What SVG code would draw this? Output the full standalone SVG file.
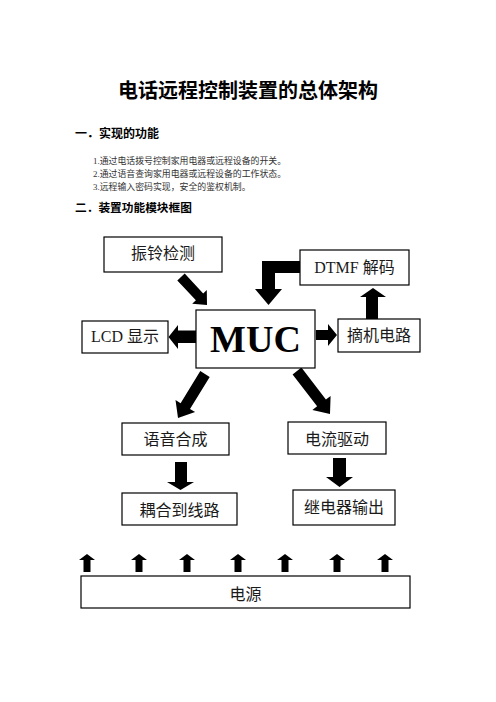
<svg xmlns="http://www.w3.org/2000/svg" xmlns:xlink="http://www.w3.org/1999/xlink" width="496" height="702" viewBox="0 0 496 702">
<style>
.box{fill:#fff;stroke:#000;stroke-width:1.2}
.lbl{font-family:"Liberation Serif","Noto Sans CJK SC",serif;font-size:16px;fill:#1a1a1a;text-anchor:middle}
.hd{font-family:"Noto Sans CJK SC","Liberation Sans",sans-serif;font-weight:bold;fill:#000}
.li{font-family:"Liberation Serif","Noto Sans CJK SC",serif;font-size:8.9px;fill:#333}
.arr{fill:#000}
</style>
<defs>
<path id="up" d="M0,0 L8,6 L3.5,6 L3.5,18 L-3.5,18 L-3.5,6 L-8,6 Z"/>
</defs>
<rect width="496" height="702" fill="#fff"/>
<g id="header">
<text class="hd" x="248" y="98" font-size="20" text-anchor="middle">电话远程控制装置的总体架构</text>
<text class="hd" x="75" y="137.5" font-size="12">一．实现的功能</text>
<text class="li" x="93" y="164">1.通过电话拨号控制家用电器或远程设备的开关。</text>
<text class="li" x="93" y="177">2.通过语音查询家用电器或远程设备的工作状态。</text>
<text class="li" x="93" y="190">3.远程输入密码实现，安全的鉴权机制。</text>
<text class="hd" x="75" y="212" font-size="11.7">二．装置功能模块框图</text>
</g>
<g id="connectors" class="arr">
<path d="M177.3,280.4 L195.9,300.3 L192.2,303.7 L207,305 L206.8,290.1 L203.2,293.5 L184.7,273.6 Z"/>
<path d="M300,261 L262,261 L262,289 L255,289 L268.5,305 L282,289 L275,289 L275,273 L300,273 Z"/>
<path d="M366,319 L366,297 L360,297 L373,288 L386,297 L378,297 L378,319 Z"/>
<path d="M316,330 L328,330 L328,324 L337,335 L328,346 L328,340 L316,340 Z"/>
<path d="M196,330.5 L178,330.5 L178,325 L168.5,337 L178,349 L178,343 L196,343 Z"/>
<path d="M200.3,371.1 L180.6,403.2 L175.5,400.1 L178,418 L195.1,412.1 L190,409 L209.7,376.9 Z"/>
<path d="M292.6,374.4 L317.1,406.2 L312.4,409.9 L330,414 L330.6,395.9 L325.9,399.5 L301.4,367.6 Z"/>
<path d="M175,462 L187,462 L187,482 L194,482 L180.5,490 L167,482 L175,482 Z"/>
<path d="M333,458 L346,458 L346,477 L353,477 L339.5,487 L326,477 L333,477 Z"/>
<use xlink:href="#up" href="#up" x="87" y="554"/>
<use xlink:href="#up" href="#up" x="139" y="554"/>
<use xlink:href="#up" href="#up" x="187" y="554"/>
<use xlink:href="#up" href="#up" x="238" y="554"/>
<use xlink:href="#up" href="#up" x="285" y="554"/>
<use xlink:href="#up" href="#up" x="337" y="554"/>
<use xlink:href="#up" href="#up" x="385" y="554"/>
</g>
<g id="ring"><rect class="box" x="104" y="237" width="118" height="35"/><text class="lbl" x="163" y="259">振铃检测</text></g>
<g id="dtmf"><rect class="box" x="300" y="250" width="109" height="35"/><text class="lbl" x="354.5" y="273">DTMF 解码</text></g>
<g id="muc"><rect class="box" x="196" y="310" width="119" height="58"/><text x="255.5" y="351.5" font-family="Liberation Serif, serif" font-weight="bold" font-size="38" text-anchor="middle">MUC</text></g>
<g id="lcd"><rect class="box" x="82" y="321" width="86" height="32"/><text class="lbl" x="125" y="342">LCD 显示</text></g>
<g id="offhook"><rect class="box" x="338" y="319" width="82" height="33"/><text class="lbl" x="379" y="341">摘机电路</text></g>
<g id="voice"><rect class="box" x="122" y="423" width="107" height="32"/><text class="lbl" x="175.5" y="445">语音合成</text></g>
<g id="drive"><rect class="box" x="288" y="422" width="98" height="32"/><text class="lbl" x="337" y="444.5">电流驱动</text></g>
<g id="couple"><rect class="box" x="122" y="493" width="115" height="32"/><text class="lbl" x="179.5" y="516">耦合到线路</text></g>
<g id="relay"><rect class="box" x="293" y="490" width="102" height="35"/><text class="lbl" x="344" y="512.5">继电器输出</text></g>
<g id="power"><rect class="box" x="81" y="576" width="329" height="32"/><text class="lbl" x="245.5" y="600">电源</text></g>
</svg>
